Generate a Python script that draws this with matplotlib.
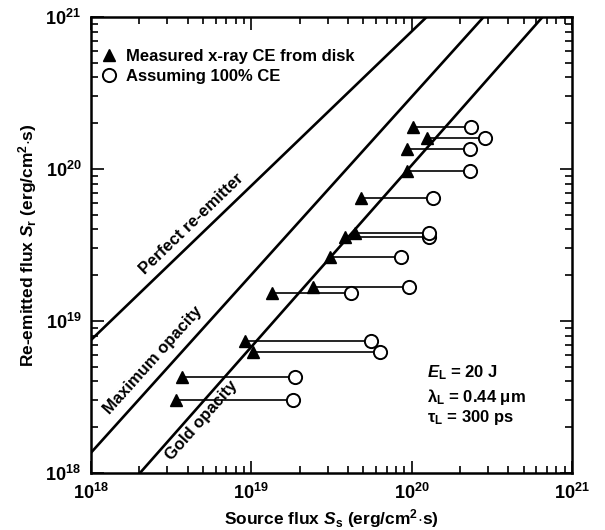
import matplotlib
matplotlib.use("Agg")
import matplotlib.pyplot as plt
from matplotlib.lines import Line2D
from matplotlib.ticker import LogLocator, NullFormatter

plt.rcParams['font.family'] = ['Liberation Sans', 'DejaVu Sans']
plt.rcParams['mathtext.fontset'] = 'custom'
plt.rcParams['mathtext.rm'] = 'Liberation Sans:bold'
plt.rcParams['mathtext.it'] = 'Liberation Sans:italic:bold'
plt.rcParams['mathtext.bf'] = 'Liberation Sans:bold'

# Measured (triangle) source flux, 100% CE (circle) source flux, re-emitted flux
tri_x = [1.02e20, 1.24e20, 9.3e19, 9.35e19, 4.8e19, 3.83e19, 4.42e19, 3.11e19,
         2.41e19, 1.34e19, 9.1e18, 1.03e19, 3.67e18, 3.39e18]
circ_x = [2.36e20, 2.85e20, 2.32e20, 2.32e20, 1.36e20, 1.28e20, 1.28e20, 8.63e19,
          9.62e19, 4.21e19, 5.61e19, 6.32e19, 1.87e19, 1.82e19]
flux_y = [1.90e20, 1.59e20, 1.35e20, 9.75e19, 6.48e19, 3.59e19, 3.80e19, 2.65e19,
          1.68e19, 1.52e19, 7.43e18, 6.28e18, 4.27e18, 3.02e18]

# Reference lines (end points)
perfect_x = [1e18, 1.24e20]
perfect_y = [7.5e18, 1e21]
maxop_x = [1e18, 2.81e20]
maxop_y = [1.36e18, 1e21]
gold_x = [2.02e18, 6.55e20]
gold_y = [1e18, 1e21]

fig = plt.figure(figsize=(6.05, 5.3), dpi=100)
ax = fig.add_axes([91/605, 1-473/530, (572-91)/605, (473-17)/530])
ax.set_xscale('log')
ax.set_yscale('log')
ax.set_xlim(1e18, 1e21)
ax.set_ylim(1e18, 1e21)

lw = 1.9
ax.plot(perfect_x, perfect_y, color='black', lw=lw)
ax.plot(maxop_x, maxop_y, color='black', lw=lw)
ax.plot(gold_x, gold_y, color='black', lw=lw)

for xt, xc, y in zip(tri_x, circ_x, flux_y):
    ax.plot([xt, xc], [y, y], color='black', lw=1.2, zorder=2)
ax.plot(circ_x, flux_y, 'o', ms=9.5, mfc='white', mec='black', mew=1.4, ls='none', zorder=3)
ax.plot(tri_x, flux_y, '^', ms=8.5, color='black', ls='none', zorder=4)

# line labels
tkw = dict(fontsize=12, fontweight='bold', ha='center', va='center', rotation_mode='anchor')
ax.text(4.26e18, 4.34e19, 'Perfect re-emitter', rotation=43.9, **tkw)
ax.text(2.43e18, 5.53e18, 'Maximum opacity', rotation=48, **tkw)
ax.text(4.92e18, 2.23e18, 'Gold opacity', rotation=48.5, **tkw)

# parameters
pkw = dict(fontsize=12, fontweight='bold', ha='left', va='center', transform=ax.transAxes)
ax.text(0.699, 0.221, r'$E_{\mathrm{L}}$ = 20 J', **pkw)
ax.text(0.699, 0.167, r'$\mathrm{\lambda_L}$ = 0.44 $\mathrm{\mu}$m', **pkw)
ax.text(0.699, 0.121, r'$\mathrm{\tau_L}$ = 300 ps', **pkw)

handles = [Line2D([], [], marker='^', color='black', ls='none', ms=8.5),
           Line2D([], [], marker='o', mfc='white', mec='black', mew=1.4, ls='none', ms=9.5)]
leg = ax.legend(handles, ['Measured x-ray CE from disk', 'Assuming 100% CE'],
                loc='upper left', bbox_to_anchor=(0.02, 0.93), frameon=False,
                handlelength=1.0, handletextpad=0.5, labelspacing=0.3, borderpad=0,
                borderaxespad=0, prop=dict(size=12, weight='bold'))

for s in ax.spines.values():
    s.set_linewidth(1.8)

ax.xaxis.set_major_locator(LogLocator(base=10, numticks=10))
ax.yaxis.set_major_locator(LogLocator(base=10, numticks=10))
ax.xaxis.set_minor_locator(LogLocator(base=10, subs=range(2, 10), numticks=100))
ax.yaxis.set_minor_locator(LogLocator(base=10, subs=range(2, 10), numticks=100))
ax.xaxis.set_minor_formatter(NullFormatter())
ax.yaxis.set_minor_formatter(NullFormatter())
ax.tick_params(which='both', direction='in', top=True, right=True, width=1.2)
ax.tick_params(which='major', length=9, labelsize=13, pad=7)
ax.tick_params(which='minor', length=5)
for lab in ax.get_xticklabels() + ax.get_yticklabels():
    lab.set_fontweight('bold')

ax.set_xlabel(r'Source flux $S_{\mathrm{s}}$ (erg/cm$^{\mathrm{2}}$$\cdot$s)', fontsize=12.5,
              fontweight='bold', labelpad=3)
ax.set_ylabel(r'Re-emitted flux $S_{\mathrm{r}}$ (erg/cm$^{\mathrm{2}}$$\cdot$s)', fontsize=12.5,
              fontweight='bold', labelpad=5)

fig.savefig('out.png', dpi=100)
